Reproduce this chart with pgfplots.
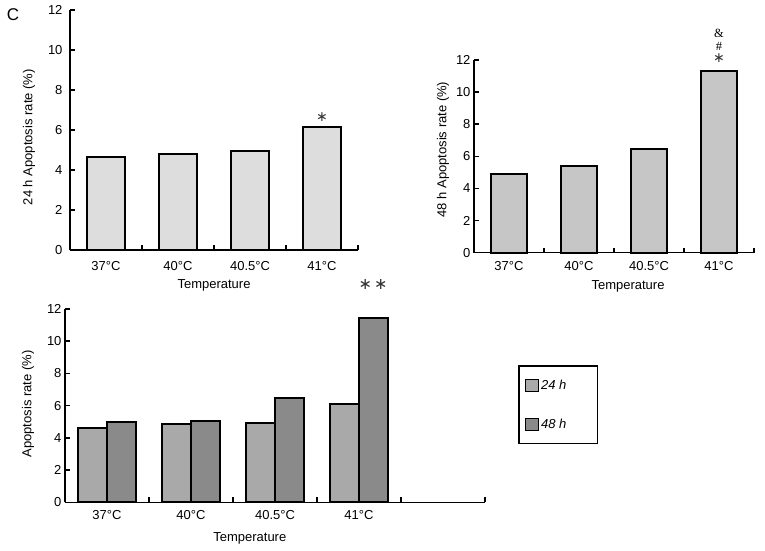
\documentclass[border=0pt]{standalone}
\usepackage{pgfplots}
\pgfplotsset{compat=1.18}
\usepackage{fontspec}
\setmainfont{Liberation Sans}
\newfontfamily\djv{DejaVu Sans}
\newfontfamily\lserif{Liberation Serif}
\definecolor{barA}{HTML}{DDDDDD}
\definecolor{barB}{HTML}{C6C6C6}
\definecolor{barC}{HTML}{A9A9A9}
\definecolor{barD}{HTML}{8A8A8A}
\tikzset{astk/.style={inner sep=0pt, text=black!80, font=\djv\fontsize{14}{14}\selectfont}}
\begin{document}
\begin{tikzpicture}[x=1pt,y=1pt]
\useasboundingbox (0,0) rectangle (765,551);
\pgfplotsset{
 panel/.style={
  scale only axis, ymin=0, ymax=12, ytick={0,2,...,12},
  axis x line=bottom, axis y line=left,
  axis line style={-, line width=1.6pt, black},
  major tick length=5pt,
  every tick/.style={line width=1.6pt, black},
  xticklabels={},
  extra x ticks={0,1,2,3}, extra x tick labels={37°C,40°C,40.5°C,41°C},
  extra x tick style={major tick length=0pt},
  font=\fontsize{13}{15}\selectfont,
  /pgf/number format/assume math mode=true,
  clip=false, ybar,
 },
}
% Panel 1: 24 h
\begin{axis}[panel, at={(70pt,301pt)}, anchor=south west,
  width=288pt, height=240pt, xmin=-0.5, xmax=3.5,
  xtick={0.5,1.5,2.5,3.5}, bar width=38pt,
  xtick align=inside, ytick align=inside,
  xticklabel style={yshift=-8pt}, yticklabel style={xshift=-4pt},
  ylabel={24 h Apoptosis rate (\%)},
  ylabel style={at={(axis description cs:-0.142,0.47)}, anchor=center},
  xlabel={Temperature},
  xlabel style={at={(axis description cs:0.5,-0.146)}, anchor=center}]
\addplot[fill=barA, draw=black, line width=2pt] coordinates {(0,4.67)(1,4.78)(2,4.97)(3,6.13)};
\node[astk] at (axis cs:3,6.65) {∗};
\end{axis}
% Panel 2: 48 h
\begin{axis}[panel, at={(474pt,298.3pt)}, anchor=south west,
  width=280pt, height=192.7pt, xmin=-0.5, xmax=3.5,
  xtick={0.5,1.5,2.5,3.5}, bar width=36.6pt,
  xtick align=inside, ytick align=inside,
  xticklabel style={yshift=-5pt},
  ylabel={48 h Apoptosis rate (\%)},
  ylabel style={at={(axis description cs:-0.111,0.535)}, anchor=center},
  xlabel={Temperature},
  xlabel style={at={(axis description cs:0.55,-0.176)}, anchor=center}]
\addplot[fill=barB, draw=black, line width=2pt] coordinates {(0,4.88)(1,5.42)(2,6.48)(3,11.33)};
\node[astk] at (axis cs:3,12.12) {∗};
\node[inner sep=0pt, font=\lserif\fontsize{12.5}{12.5}\selectfont] at (axis cs:3,12.86) {\#};
\node[inner sep=0pt, font=\lserif\fontsize{12.5}{12.5}\selectfont] at (axis cs:3,13.66) {\&};
\end{axis}
% Panel 3: both
\begin{axis}[panel, at={(65pt,48.7pt)}, anchor=south west,
  width=420pt, height=193.3pt, xmin=-0.5, xmax=4.5,
  xtick={0.5,1.5,2.5,3.5,4.5}, bar width=29pt,
  xtick align=inside, ytick align=inside,
  xticklabel style={yshift=-5pt},
  ylabel={Apoptosis rate (\%)},
  ylabel style={at={(axis description cs:-0.088,0.508)}, anchor=center},
  xlabel={Temperature},
  xlabel style={at={(axis description cs:0.44,-0.185)}, anchor=center},
  legend image code/.code={\draw[#1, line width=1.3pt] (0pt,-6pt) rectangle (13pt,6pt);},
  legend style={at={(axis description cs:1.0786,0.710)}, anchor=north west,
    draw=black, line width=1.6pt, inner xsep=6pt, inner ysep=12pt,
    row sep=24pt, font=\itshape\fontsize{13}{15}\selectfont},
  legend cell align=left]
\addplot[fill=barC, draw=black, line width=2pt, bar shift=-14.5pt] coordinates {(0,4.6)(1,4.84)(2,4.94)(3,6.1)};
\addlegendentry{24 h\rule{23pt}{0pt}}
\addplot[fill=barD, draw=black, line width=2pt, bar shift=14.5pt] coordinates {(0,4.97)(1,5.07)(2,6.5)(3,11.43)};
\addlegendentry{48 h\rule{23pt}{0pt}}
\node[astk, font=\djv\fontsize{16}{16}\selectfont] at (axis cs:3.167,13.5) {∗\hspace{2pt}∗};
\end{axis}
\node[font=\fontsize{17}{19}\selectfont] at (13,536) {C};
\end{tikzpicture}
\end{document}
